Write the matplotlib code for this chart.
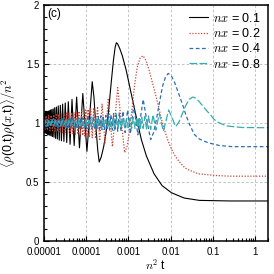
import matplotlib
matplotlib.use("Agg")
import matplotlib.pyplot as plt
import matplotlib.ticker as mticker
import numpy as np

plt.rcParams['font.family'] = ['Liberation Sans', 'DejaVu Sans']
plt.rcParams['mathtext.fontset'] = 'cm'

# log10(n^2 t) and <rho(0,t)rho(x,t)>/n^2
lt_black = [-5.005, -4.997, -4.987, -4.976, -4.965, -4.954, -4.942, -4.930, -4.918, -4.906,
            -4.892, -4.879, -4.865, -4.851, -4.836, -4.821, -4.805, -4.789, -4.772, -4.754,
            -4.736, -4.716, -4.696, -4.675, -4.653, -4.629, -4.604, -4.578, -4.550, -4.520,
            -4.488, -4.453, -4.415, -4.374, -4.328, -4.277, -4.219, -4.152, -4.073, -3.976,
            -3.913, -3.851, -3.81, -3.77, -3.72, -3.686,
            -3.64, -3.58, -3.52, -3.46, -3.40, -3.35, -3.31, -3.28, -3.25, -3.20, -3.14, -3.05,
            -2.93, -2.81, -2.69, -2.57, -2.39, -2.20, -1.98, -1.68, -1.32, -0.60, 0.31]
y_black = [1.08, 0.92, 1.08, 0.92, 1.085, 0.915, 1.09, 0.91, 1.095, 0.905,
           1.10, 0.90, 1.105, 0.895, 1.11, 0.89, 1.115, 0.885, 1.12, 0.88,
           1.13, 0.87, 1.135, 0.865, 1.145, 0.855, 1.15, 0.85, 1.16, 0.845,
           1.17, 0.835, 1.18, 0.82, 1.20, 0.81, 1.22, 0.79, 1.25, 0.76,
           1.05, 1.35, 1.22, 1.0, 0.77, 0.67,
           0.71, 0.80, 0.93, 1.12, 1.35, 1.53, 1.64, 1.68, 1.67, 1.63, 1.57, 1.45,
           1.25, 1.05, 0.86, 0.72, 0.57, 0.47, 0.41, 0.365, 0.345, 0.34, 0.34]

lt_red = [-5.00, -4.97, -4.94, -4.91, -4.88, -4.85, -4.82, -4.79, -4.76, -4.73,
          -4.70, -4.67, -4.64, -4.61, -4.58, -4.55, -4.52, -4.49, -4.46, -4.43,
          -4.40, -4.37, -4.34, -4.31, -4.28, -4.25, -4.22, -4.19, -4.16, -4.13, -4.10,
          -4.073, -4.051, -4.027, -4.002, -3.976, -3.948, -3.918, -3.886, -3.851, -3.813,
          -3.772, -3.726, -3.675, -3.617, -3.550, -3.471, -3.374, -3.31, -3.249, -3.17, -3.084,
          -3.03, -2.97, -2.91, -2.85, -2.79, -2.72, -2.65, -2.58, -2.50, -2.42, -2.34, -2.27,
          -2.20, -2.125, -2.05, -1.98, -1.89, -1.79, -1.66, -1.55, -1.35, -1.20, -0.90, -0.60, 0.31]
y_red = [1.06, 0.94, 1.06, 0.94, 1.065, 0.935, 1.065, 0.935, 1.07, 0.93,
         1.07, 0.93, 1.075, 0.925, 1.08, 0.92, 1.08, 0.92, 1.085, 0.915,
         1.085, 0.91, 1.09, 0.91, 1.09, 0.905, 1.095, 0.905, 1.10, 0.90, 1.10,
         0.895, 1.105, 0.89, 1.11, 0.885, 1.115, 0.88, 1.12, 0.875, 1.13,
         0.87, 1.14, 0.85, 1.16, 0.83, 1.21, 0.80, 1.05, 1.30, 1.03, 0.75,
         0.80, 0.93, 1.12, 1.32, 1.47, 1.55, 1.57, 1.53, 1.44, 1.33, 1.22, 1.12,
         1.01, 0.92, 0.84, 0.78, 0.72, 0.67, 0.62, 0.60, 0.57, 0.565, 0.555, 0.55, 0.55]

lt_blue = [-5.00, -4.97, -4.94, -4.91, -4.88, -4.85, -4.82, -4.79, -4.76, -4.73,
           -4.70, -4.67, -4.64, -4.61, -4.58, -4.55, -4.52, -4.49, -4.46, -4.43,
           -4.40, -4.37, -4.34, -4.31, -4.28, -4.25, -4.22, -4.19, -4.16, -4.13,
           -4.10, -4.07, -4.04, -4.01, -3.98, -3.95, -3.92, -3.89, -3.86, -3.83,
           -3.80, -3.77, -3.74, -3.71, -3.68, -3.65, -3.62, -3.59, -3.56, -3.53,
           -3.50, -3.47, -3.44, -3.41,
           -3.374, -3.346, -3.316, -3.284, -3.249, -3.211, -3.170, -3.124, -3.073, -3.015,
           -2.948, -2.869, -2.772, -2.647, -2.56, -2.47,
           -2.40, -2.33, -2.26, -2.19, -2.12, -2.055, -1.98, -1.90, -1.82, -1.72, -1.63,
           -1.53, -1.43, -1.32, -1.20, -1.08, -0.85, -0.55, 0.31]
y_blue = [0.97, 1.03, 0.97, 1.03, 0.97, 1.03, 0.97, 1.03, 0.97, 1.03,
          0.965, 1.035, 0.965, 1.035, 0.965, 1.035, 0.965, 1.035, 0.96, 1.04,
          0.96, 1.04, 0.96, 1.04, 0.96, 1.04, 0.955, 1.045, 0.955, 1.045,
          0.955, 1.045, 0.955, 1.045, 0.95, 1.05, 0.95, 1.05, 0.95, 1.05,
          0.95, 1.055, 0.945, 1.055, 0.945, 1.06, 0.945, 1.06, 0.94, 1.065,
          0.94, 1.065, 0.94, 1.07,
          0.94, 1.08, 0.935, 1.085, 0.93, 1.09, 0.93, 1.10, 0.92, 1.11,
          0.91, 1.15, 0.90, 1.20, 1.02, 0.86,
          0.92, 1.04, 1.18, 1.31, 1.39, 1.42, 1.40, 1.34, 1.26, 1.16, 1.06,
          0.97, 0.90, 0.865, 0.845, 0.83, 0.81, 0.80, 0.80]

lt_cyan = [-5.00, -4.96, -4.92, -4.88, -4.84, -4.80, -4.76, -4.72, -4.68, -4.64,
           -4.60, -4.56, -4.52, -4.48, -4.44, -4.40, -4.36, -4.32, -4.28, -4.24,
           -4.20, -4.16, -4.12, -4.08, -4.04, -4.00, -3.96, -3.92, -3.88, -3.84,
           -3.80, -3.76, -3.72, -3.68, -3.64, -3.60, -3.56, -3.52, -3.48, -3.44,
           -3.40, -3.36, -3.32, -3.28, -3.24, -3.20, -3.16, -3.12, -3.08, -3.04,
           -3.00, -2.96, -2.92, -2.88, -2.84, -2.80,
           -2.772, -2.744, -2.714, -2.682, -2.647, -2.609, -2.568, -2.522, -2.471, -2.413,
           -2.346, -2.267, -2.170, -2.045, -1.96, -1.880,
           -1.80, -1.72, -1.64, -1.56, -1.478, -1.40, -1.32, -1.24, -1.16, -1.06, -0.97,
           -0.87, -0.78, -0.66, -0.54, -0.30, 0.31]
y_cyan = [0.98, 1.02, 0.98, 1.02, 0.98, 1.02, 0.98, 1.02, 0.98, 1.02,
          0.98, 1.02, 0.98, 1.02, 0.98, 1.02, 0.98, 1.02, 0.98, 1.02,
          0.975, 1.025, 0.975, 1.025, 0.975, 1.025, 0.975, 1.025, 0.975, 1.025,
          0.97, 1.03, 0.97, 1.03, 0.97, 1.03, 0.97, 1.03, 0.97, 1.03,
          0.965, 1.035, 0.965, 1.035, 0.965, 1.035, 0.96, 1.04, 0.96, 1.04,
          0.96, 1.04, 0.955, 1.045, 0.955, 1.045,
          0.96, 1.05, 0.955, 1.05, 0.955, 1.055, 0.95, 1.06, 0.945, 1.07,
          0.94, 1.08, 0.93, 1.11, 1.04, 0.97,
          1.01, 1.08, 1.15, 1.20, 1.22, 1.21, 1.18, 1.145, 1.11, 1.07, 1.03,
          1.005, 0.99, 0.975, 0.97, 0.962, 0.96]

labels = [r'$nx$ = 0.1', r'$nx$ = 0.2', r'$nx$ = 0.4', r'$nx$ = 0.8']
xtick_vals = [1e-5, 1e-4, 1e-3, 1e-2, 1e-1, 1]
xtick_labels = ['0.00001', '0.0001', '0.001', '0.01', '0.1', '1']
ytick_vals = [0, 0.5, 1, 1.5, 2]
ytick_labels = ['0', '0.5', '1', '1.5', '2']

fig = plt.figure(figsize=(2.74, 2.74), dpi=100)
ax = fig.add_axes([0.159, 0.12, 0.819, 0.862])

ax.plot(10 ** np.array(lt_black), y_black, color='black', lw=0.8, label=labels[0])
ax.plot(10 ** np.array(lt_red), y_red, color='#c8473a', lw=0.9, ls=(0, (1, 1.3)), label=labels[1])
ax.plot(10 ** np.array(lt_blue), y_blue, color='#2f6fae', lw=0.9, ls=(0, (3, 2)), label=labels[2])
ax.plot(10 ** np.array(lt_cyan), y_cyan, color='#36adae', lw=0.9, ls=(0, (6, 2)), label=labels[3])

ax.set_xscale('log')
ax.set_xlim(1e-5, 2)
ax.set_ylim(0, 2)
ax.set_xticks(xtick_vals)
ax.set_xticklabels(xtick_labels)
ax.xaxis.set_minor_locator(mticker.LogLocator(base=10, subs=np.arange(2, 10), numticks=20))
ax.xaxis.set_minor_formatter(mticker.NullFormatter())
ax.set_yticks(ytick_vals)
ax.set_yticklabels(ytick_labels)
ax.yaxis.set_minor_locator(mticker.MultipleLocator(0.1))

ax.tick_params(which='both', direction='in', labelsize=7, width=0.8)
ax.tick_params(which='major', length=3.5)
ax.tick_params(axis='x', which='major', pad=4)
ax.tick_params(axis='y', which='major', pad=3)
ax.tick_params(which='minor', length=2)
ax.grid(True, which='major', color='#b8b8b8', lw=0.6, ls=(0, (3, 2.5)))
for s in ax.spines.values():
    s.set_linewidth(1.1)

ax.set_xlabel(r'$n^2$ t', fontsize=8.5, labelpad=0.5)
ax.set_ylabel(r'$\langle\rho$(0,t)$\rho$($x$,t)$\rangle/n^2$', fontsize=9)
ax.yaxis.set_label_coords(-0.112, 0.5)
ax.text(0.015, 0.985, '(c)', transform=ax.transAxes, fontsize=8.5, va='top', ha='left')

ax.legend(loc='upper right', frameon=False, fontsize=9, handlelength=1.5,
          handletextpad=0.45, labelspacing=0.18, borderaxespad=0.15)

fig.savefig('out.png', dpi=100)
